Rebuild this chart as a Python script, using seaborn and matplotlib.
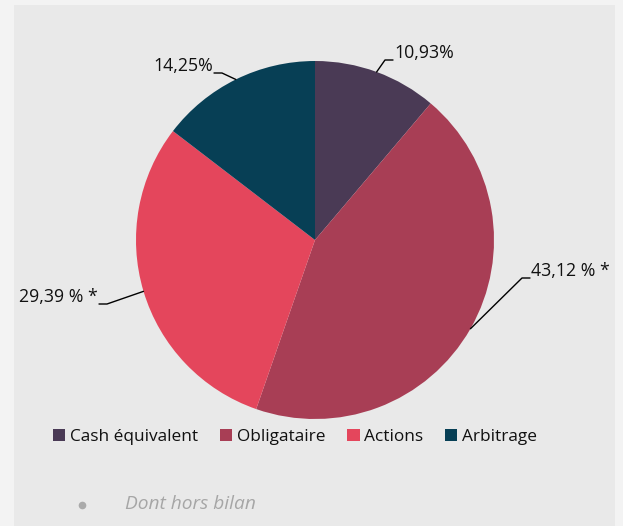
import numpy as np
import matplotlib
matplotlib.use("Agg")
import matplotlib.pyplot as plt
import seaborn as sns
from matplotlib.patches import Rectangle
from matplotlib.lines import Line2D

categories = ["Cash équivalent", "Obligataire", "Actions", "Arbitrage"]
values = [10.93, 43.12, 29.39, 14.25]
value_labels = ["10,93%", "43,12 % *", "29,39 % *", "14,25%"]
note = "Dont hors bilan"

colors = ["#4a3a55", "#a83e55", "#e4465c", "#073f55"]

sns.set_theme(style="white")
plt.rcParams["font.family"] = ["Open Sans", "DejaVu Sans"]

W, H = 623, 526
fig = plt.figure(figsize=(W / 100, H / 100), dpi=100, facecolor="#f3f3f3")
fig.patches.append(Rectangle((14 / W, 0), (615 - 14) / W, (H - 5) / H,
                             transform=fig.transFigure, facecolor="#e9e9e9",
                             edgecolor="none", zorder=-10))

cx, cy, R = 315, 240, 179
ax = fig.add_axes([(cx - R) / W, (H - cy - R) / H, 2 * R / W, 2 * R / H])
ax.set_zorder(5)
ax.patch.set_visible(False)
wedges, _ = ax.pie(values, colors=colors, startangle=90, counterclock=False,
                   radius=1, wedgeprops=dict(linewidth=0))
ax.set_xlim(-1, 1)
ax.set_ylim(-1, 1)
ax.set_aspect("equal")
ax.axis("off")

def px(x, y):
    return (x - cx) / R, (cy - y) / R

elbows = [px(385, 60), px(522, 278), px(107, 304), px(222, 73)]
sides = [1, 1, -1, -1]
for w, lab, (ex, ey), s in zip(wedges, value_labels, elbows, sides):
    ang = np.deg2rad((w.theta1 + w.theta2) / 2)
    sx, sy = np.cos(ang), np.sin(ang)
    hx = ex + s * 8 / R
    ax.add_line(Line2D([sx, ex, hx], [sy, ey, ey], color="black", lw=1,
                       clip_on=False))
    ax.text(hx + s * 1 / R, ey + 7 / R, lab, ha="left" if s > 0 else "right",
            va="center", fontsize=12.8, color="#111111", clip_on=False)

handles = [Rectangle((0, 0), 1, 1, facecolor=c, edgecolor="none") for c in colors]
fig.legend(handles, categories, loc="center", bbox_to_anchor=(295 / W, 1 - 437 / H),
           ncol=4, frameon=False, fontsize=12.4, handlelength=0.7, handleheight=0.7,
           handletextpad=0.25, columnspacing=1.3, labelcolor="#111111")

fig.add_artist(Line2D([82 / W], [1 - 505 / H], marker="o", markersize=5.5,
                      color="#aaaaaa", markeredgewidth=0, transform=fig.transFigure))
fig.text(125 / W, 1 - 504 / H, note, color="#a6a6a6", fontsize=13.8, style="italic",
         ha="left", va="center")

fig.savefig("out.png", dpi=100, facecolor=fig.get_facecolor())
